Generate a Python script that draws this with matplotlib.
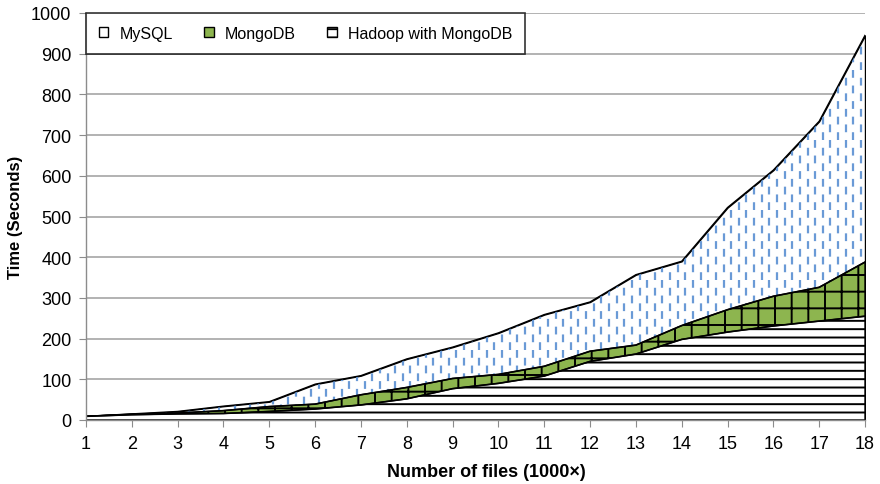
import matplotlib
matplotlib.use('Agg')
import matplotlib.pyplot as plt
import numpy as np
from matplotlib.collections import LineCollection
from matplotlib.patches import Patch

files = list(range(1, 19))
mysql = [9, 15, 21, 34, 45, 88, 109, 150, 179, 214, 259, 290, 357, 390, 522, 614, 734, 945]
mongodb = [9, 14, 17, 23, 33, 39, 62, 80, 102, 112, 132, 169, 184, 232, 271, 304, 326, 388]
hadoop = [9, 13, 15, 16, 21, 27, 37, 52, 77, 90, 108, 144, 162, 198, 216, 231, 243, 255]
series_names = ['MySQL', 'MongoDB', 'Hadoop with MongoDB']

plt.rcParams['font.family'] = ['Liberation Sans', 'DejaVu Sans']
plt.rcParams['hatch.linewidth'] = 1.4

fig = plt.figure(figsize=(8.8, 4.85), dpi=100)
ax = fig.add_axes([86 / 880, 1 - 421 / 485, 779 / 880, 407 / 485])

blue = '#6a9ad6'
green = '#8db54f'

# MySQL: white area with blue dashed vertical strokes
my_poly = ax.fill_between(files, 0, mysql, facecolor='white', edgecolor='black',
                          linewidth=1.0, zorder=2)
xs = np.arange(files[0] + 0.08, files[-1], 1 / 6)
segs = [[(x, 0), (x, 1000)] for x in xs]
styles = [(0 if i % 2 == 0 else 3.5, (3.5, 3.5)) for i in range(len(xs))]
dashes = LineCollection(segs, colors=blue, linewidths=1.6, linestyles=styles, zorder=2.1)
ax.add_collection(dashes)
dashes.set_clip_path(my_poly.get_paths()[0], transform=ax.transData)
ax.plot(files, mysql, color='black', linewidth=1.0, zorder=2.2)

# MongoDB: green with black grid hatch
ax.fill_between(files, 0, mongodb, facecolor=green, edgecolor='black', hatch='+',
                linewidth=1.0, zorder=3)
ax.plot(files, mongodb, color='black', linewidth=1.2, zorder=3.1)

# Hadoop with MongoDB: white with horizontal lines
ax.fill_between(files, 0, hadoop, facecolor='white', edgecolor='black', hatch='--',
                linewidth=1.0, zorder=4)
ax.plot(files, hadoop, color='black', linewidth=1.2, zorder=4.1)

ax.set_xlim(1, 18)
ax.set_ylim(0, 1000)
ax.set_xticks(files)
ax.set_yticks(range(0, 1001, 100))
ax.grid(axis='y', color='#a6a6a6', linewidth=1.2, zorder=0)
ax.set_axisbelow(True)
for s in ['top', 'right']:
    ax.spines[s].set_visible(False)
for s in ['left', 'bottom']:
    ax.spines[s].set_color('#8c8c8c')
    ax.spines[s].set_linewidth(1.0)
    ax.spines[s].set_zorder(5)
ax.tick_params(axis='y', direction='out', length=5, color='#8c8c8c',
               labelsize=13, pad=5.5)
ax.tick_params(axis='x', direction='out', length=5, color='#8c8c8c',
               labelsize=13, pad=6)

ax.set_xlabel('Number of files (1000\u00d7)', fontsize=13, fontweight='bold')
ax.xaxis.set_label_coords(0.514, -0.105)
ax.set_ylabel('Time (Seconds)', fontsize=12, fontweight='bold')
ax.yaxis.set_label_coords(-0.081, 0.5)

handles = [
    Patch(facecolor='white', edgecolor='black', label=series_names[0]),
    Patch(facecolor=green, edgecolor='black', label=series_names[1]),
    Patch(facecolor='white', edgecolor='black', hatch='--', label=series_names[2]),
]
leg = ax.legend(handles=handles, loc='upper left', ncol=3, fontsize=11.5,
                frameon=True, fancybox=False, edgecolor='black',
                handlelength=0.6, handleheight=0.6, handletextpad=0.7,
                columnspacing=1.95, borderpad=0.8, borderaxespad=0.0)
leg.get_frame().set_linewidth(1.2)
leg.set_zorder(10)

fig.savefig('out.png', dpi=100)
